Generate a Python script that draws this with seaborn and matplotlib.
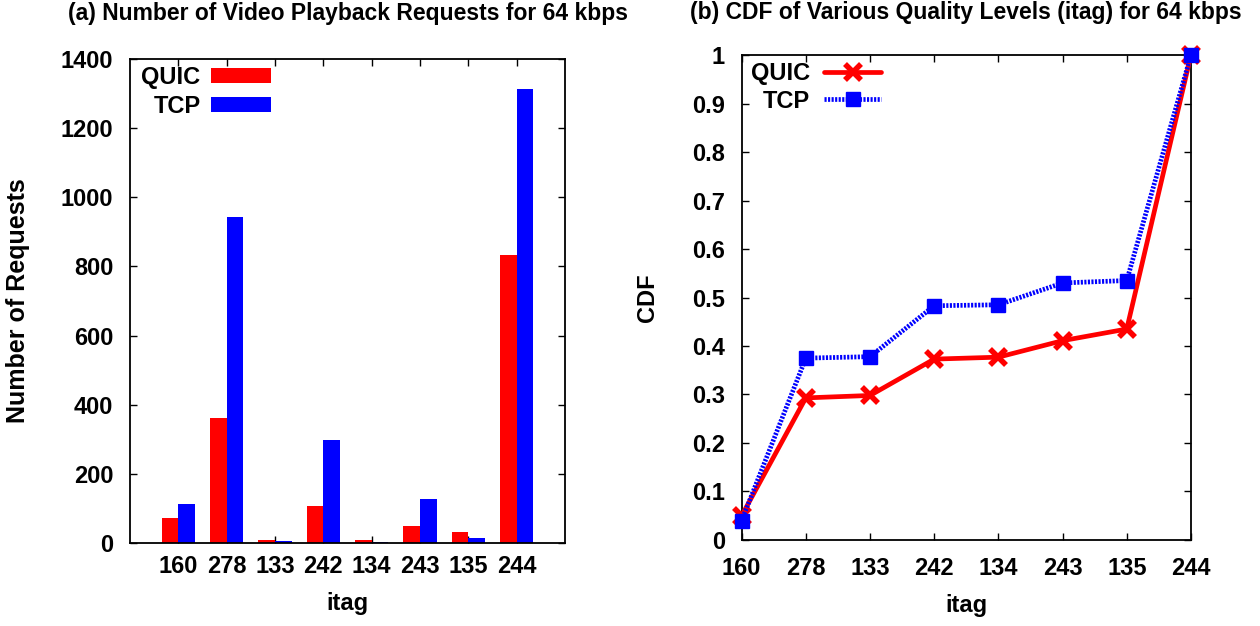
import matplotlib
matplotlib.use("Agg")
import matplotlib.pyplot as plt
import seaborn as sns
import pandas as pd

# ---- data ----
itags = ["160", "278", "133", "242", "134", "243", "135", "244"]
quic_requests = [72, 362, 9, 107, 8, 50, 33, 834]
tcp_requests = [112, 944, 7, 298, 4, 126, 13, 1314]
quic_cdf = [0.05, 0.293, 0.298, 0.373, 0.377, 0.411, 0.435, 1.0]
tcp_cdf = [0.04, 0.375, 0.378, 0.483, 0.485, 0.530, 0.535, 1.0]
left_yticks = [0, 200, 400, 600, 800, 1000, 1200, 1400]
right_yticks = [0, 0.1, 0.2, 0.3, 0.4, 0.5, 0.6, 0.7, 0.8, 0.9, 1.0]
right_yticklabels = ["0", "0.1", "0.2", "0.3", "0.4", "0.5", "0.6", "0.7", "0.8", "0.9", "1"]

sns.set_style("ticks")
plt.rcParams["font.family"] = ["Liberation Sans", "DejaVu Sans"]
plt.rcParams["font.weight"] = "bold"
plt.rcParams["axes.labelweight"] = "bold"
plt.rcParams["axes.titleweight"] = "bold"
for k in ("text.color", "axes.labelcolor", "xtick.color", "ytick.color",
          "axes.edgecolor"):
    plt.rcParams[k] = "black"

RED = "#ff0000"
BLUE = "#0000ff"
TICK_FS = 17
LABEL_FS = 17
TITLE_FS = 16.5
LEG_FS = 17

fig = plt.figure(figsize=(12.6, 6.26), dpi=100)
ax1 = fig.add_axes([0.1032, 0.1326, 0.3452, 0.7732])
ax2 = fig.add_axes([0.5886, 0.1374, 0.3566, 0.7747])

# ---- left: bar chart ----
bars = pd.DataFrame({
    "itag": itags * 2,
    "requests": quic_requests + tcp_requests,
    "proto": ["QUIC"] * len(itags) + ["TCP"] * len(itags),
})
sns.barplot(data=bars, x="itag", y="requests", hue="proto", order=itags,
            hue_order=["QUIC", "TCP"], palette=[RED, BLUE], width=0.69,
            gap=0, linewidth=0, saturation=1, ax=ax1)
ax1.set_xlim(-1, 8)
ax1.set_ylim(0, 1400)
ax1.set_yticks(left_yticks)
ax1.set_axisbelow(True)
ax1.set_xlabel("itag", fontsize=LABEL_FS, labelpad=10)
ax1.set_ylabel("Number of Requests", fontsize=18, labelpad=22)
ax1.set_title("(a) Number of Video Playback Requests for 64 kbps",
              fontsize=TITLE_FS, pad=28)
leg1 = ax1.legend(loc="upper left", frameon=False, markerfirst=False,
                  fontsize=LEG_FS, handlelength=2.55, handleheight=0.6,
                  handletextpad=0.45, labelspacing=0.25,
                  bbox_to_anchor=(-0.012, 1.02), borderaxespad=0.3)
for t in leg1.get_texts():
    t.set_ha("right")

# ---- right: CDF ----
cdf = pd.DataFrame({"itag": itags, "QUIC": quic_cdf, "TCP": tcp_cdf})
sns.pointplot(data=cdf, x="itag", y="QUIC", order=itags, color=RED,
              marker="x", linestyle="-", markersize=11, markeredgewidth=4,
              linewidth=3.4, label="QUIC", ax=ax2, zorder=3, clip_on=False)
sns.pointplot(data=cdf, x="itag", y="TCP", order=itags, color=BLUE,
              marker="s", linestyle=(0, (0.45, 0.3)), markersize=10,
              markeredgewidth=1, linewidth=3.4, label="TCP", ax=ax2,
              zorder=4, clip_on=False)
ax2.set_xlim(0, 7)
ax2.set_ylim(0, 1)
ax2.set_yticks(right_yticks)
ax2.set_yticklabels(right_yticklabels)
ax2.set_xlabel("itag", fontsize=LABEL_FS, labelpad=10)
ax2.set_ylabel("CDF", fontsize=LABEL_FS, labelpad=24)
ax2.set_title("(b) CDF of Various Quality Levels (itag) for 64 kbps",
              fontsize=TITLE_FS, pad=26)
leg2 = ax2.legend(loc="upper left", frameon=False, markerfirst=False,
                  fontsize=LEG_FS, handlelength=2.4, handletextpad=0.6,
                  labelspacing=0.2, borderaxespad=0.3,
                  bbox_to_anchor=(-0.016, 1.02))
for t in leg2.get_texts():
    t.set_ha("right")

for ax, xpad in ((ax1, 9), (ax2, 12)):
    for s in ax.spines.values():
        s.set_visible(True)
        s.set_linewidth(1.3)
        s.set_color("black")
    ax.tick_params(axis="both", which="both", direction="in", length=5,
                   width=1, top=True, right=True, labelsize=TICK_FS,
                   colors="black")
    ax.tick_params(axis="y", pad=12)
    ax.tick_params(axis="x", pad=xpad)
    for lab in ax.get_xticklabels() + ax.get_yticklabels():
        lab.set_fontweight("bold")

fig.savefig("out.png", dpi=100)
